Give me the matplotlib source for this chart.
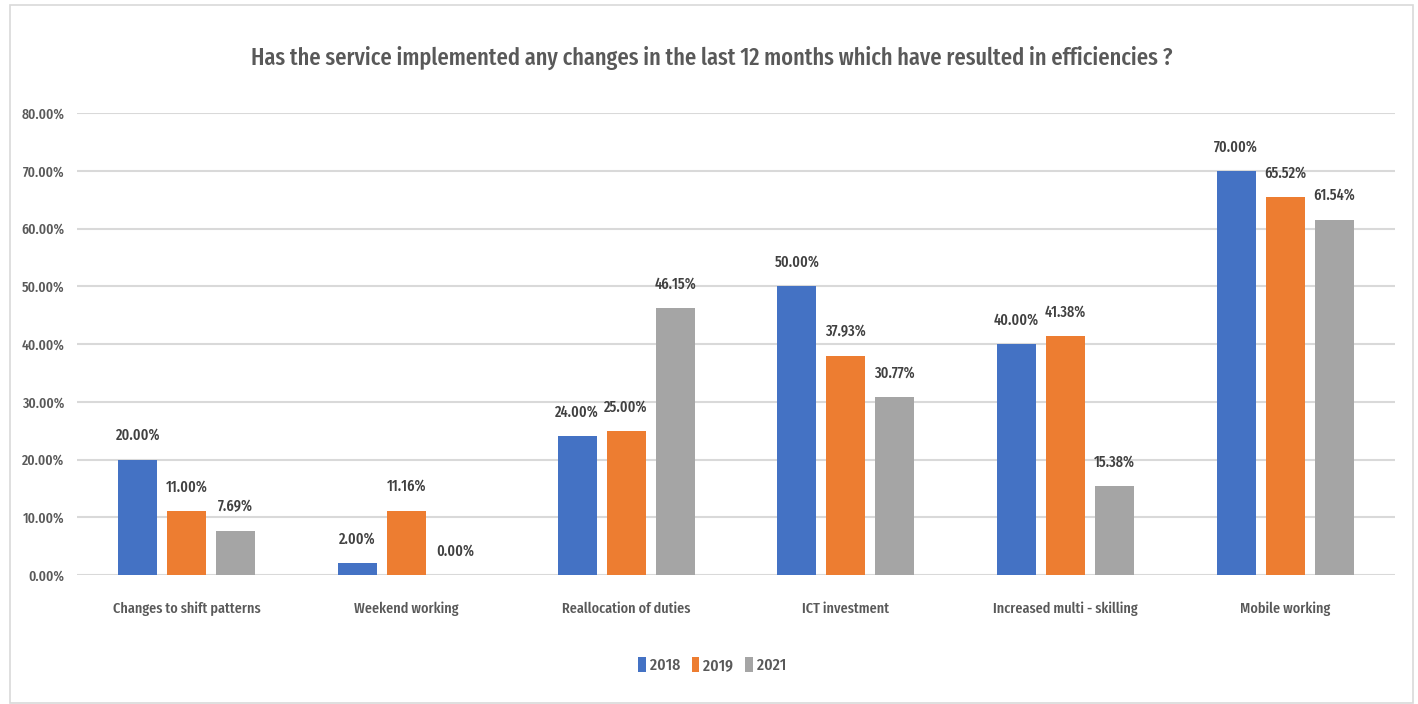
import matplotlib
matplotlib.use("Agg")
import matplotlib.pyplot as plt
import numpy as np
from matplotlib.patches import Rectangle
from matplotlib import font_manager as fm

categories = ["Changes to shift patterns", "Weekend working", "Reallocation of duties",
              "ICT investment", "Increased multi - skilling", "Mobile working"]
series_names = ["2018", "2019", "2021"]
v2018 = [20.00, 2.00, 24.00, 50.00, 40.00, 70.00]
v2019 = [11.00, 11.16, 25.00, 37.93, 41.38, 65.52]
v2021 = [7.69, 0.00, 46.15, 30.77, 15.38, 61.54]
yticks = [0, 10, 20, 30, 40, 50, 60, 70, 80]
title = "Has the service implemented any changes in the last 12 months which have resulted in efficiencies ?"

installed = {f.name for f in fm.fontManager.ttflist}
font = "DejaVu Sans"
for cand in ["Fira Sans Extra Condensed", "Open Sans Condensed", "Asap Condensed",
             "Encode Sans Condensed", "Fira Sans Condensed", "Roboto Condensed",
             "IBM Plex Sans Condensed"]:
    if cand in installed:
        font = cand
        break
plt.rcParams['font.family'] = [font, 'DejaVu Sans']
WEIGHT = "medium"

colors = ["#4472C4", "#ED7D31", "#A5A5A5"]
tick_color = "#595959"
label_color = "#404040"
W, H = 1418, 704

fig = plt.figure(figsize=(W / 100, H / 100), dpi=100)
fig.patches.append(Rectangle((10 / W, 1 - 703 / H), 1403 / W, 698 / H, transform=fig.transFigure,
                             fill=False, edgecolor="#D9D9D9", linewidth=1.2))

ax = fig.add_axes([77 / W, 1 - 575 / H, (1395 - 77) / W, (575 - 113) / H])
x = np.arange(len(categories))
width = 0.177
offset = 0.223
data_texts = []
for i, (vals, name) in enumerate(zip([v2018, v2019, v2021], series_names)):
    bars = ax.bar(x + (i - 1) * offset, vals, width, color=colors[i], label=name, zorder=3)
    for b, v in zip(bars, vals):
        t = ax.annotate(f"{v:.2f}%", (b.get_x() + b.get_width() / 2, v), xytext=(0, 14),
                        textcoords="offset points", ha="center", va="baseline",
                        fontsize=12, color=label_color, fontweight=WEIGHT)
        data_texts.append(t)

ax.set_xlim(-0.5, len(categories) - 0.5)
ax.set_ylim(0, 80)
ax.set_yticks(yticks)
ax.set_yticklabels([f"{t:.2f}%" for t in yticks])
ax.set_xticks(x)
ax.set_xticklabels(categories)
ax.grid(axis="y", color="#D9D9D9", linewidth=1.5, zorder=0)
for s in ax.spines.values():
    s.set_visible(False)
ax.tick_params(axis="both", length=0, colors=tick_color, labelsize=12)
ax.tick_params(axis="x", pad=19)
ax.tick_params(axis="y", pad=9)
for lbl in ax.get_xticklabels() + ax.get_yticklabels():
    lbl.set_fontweight(WEIGHT)

ttl = fig.text(712 / W, 1 - 58 / H, title, ha="center", va="center", fontsize=18,
               color=tick_color, fontweight=WEIGHT)

leg = fig.legend(loc="center", bbox_to_anchor=(712 / W, 1 - 665 / H), ncol=3, frameon=False,
                 fontsize=12, handlelength=0.45, handleheight=1.0, handletextpad=0.25,
                 columnspacing=0.7)
for t in leg.get_texts():
    t.set_color(tick_color)
    t.set_fontweight(WEIGHT)

# fit text sizes to the widths measured on the reference
fig.canvas.draw()
r = fig.canvas.get_renderer()
def fit(texts, sample, target):
    w = sample.get_window_extent(r).width
    k = target / w
    for t in texts:
        t.set_fontsize(t.get_fontsize() * k)
fit([ttl], ttl, 920)
fit(data_texts, data_texts[0], 44)
fit(ax.get_yticklabels(), ax.get_yticklabels()[-1], 43)
fit(ax.get_xticklabels(), ax.get_xticklabels()[0], 148)
fit(leg.get_texts(), leg.get_texts()[0], 30)

fig.savefig("out.png", dpi=100)
